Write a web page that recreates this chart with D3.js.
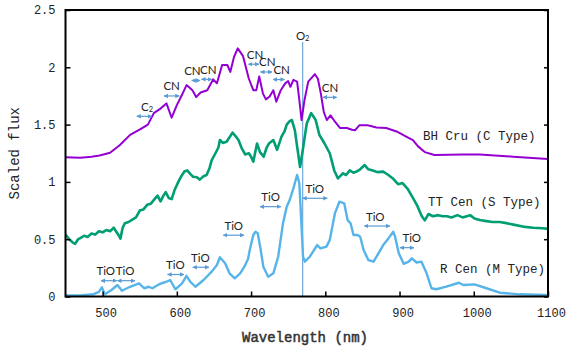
<!DOCTYPE html>
<html>
<head>
<meta charset="utf-8">
<script src="https://cdn.jsdelivr.net/npm/d3@7"></script>
<style>
  html, body { margin: 0; padding: 0; background: #fff; }
  svg { display: block; }
</style>
</head>
<body>
<svg id="chart" width="566" height="348"></svg>
<script>
// Spectra of three late-type giants: wavelength (nm) and scaled flux.
const bhCruWave = [450,470,485,496,510,523,537,551,561,569,578,586,593,600,607,613,621,626,632,641,649,654,661,668,672,677,682,689,697,703,707,711,716,720,725,730,734,740,746,750,753,757,762,765,768,772,777,786,790,794,798,802,807,813,820,829,836,840,846,857,869,882,896,909,918,925,934,947,985,1008,1053,1100];
const bhCruFlux = [1.215,1.21,1.22,1.23,1.255,1.32,1.41,1.46,1.50,1.60,1.64,1.685,1.56,1.67,1.76,1.845,1.80,1.74,1.78,1.80,1.895,1.86,2.02,2.02,1.96,2.09,2.165,2.10,1.90,1.80,1.80,1.92,1.77,1.72,1.745,1.80,1.70,1.80,1.86,1.88,1.83,1.89,1.875,1.715,1.54,1.715,1.875,1.94,1.90,1.77,1.61,1.54,1.58,1.525,1.47,1.47,1.455,1.45,1.495,1.495,1.475,1.47,1.44,1.395,1.365,1.31,1.26,1.235,1.24,1.24,1.22,1.20];

const ttCenWave = [450,455,460,463,467,470,475,480,485,490,495,500,505,510,515,518,522,524,527,530,535,540,545,550,555,560,565,570,574,578,582,585,589,593,597,602,606,610,614,618,622,627,631,636,640,644,647,652,656,658,662,667,671,675,679,683,687,692,697,700,703,708,712,717,721,724,730,735,741,745,748,752,755,759,762,766,769,775,781,787,792,799,806,812,817,820,824,828,833,838,842,847,853,858,864,870,878,885,891,898,904,911,918,924,930,934,939,945,952,958,964,970,978,985,995,1001,1008,1015,1025,1035,1044,1055,1066,1080,1093,1100];
const ttCenFlux = [0.54,0.50,0.47,0.46,0.50,0.51,0.53,0.52,0.55,0.54,0.57,0.56,0.58,0.57,0.60,0.57,0.53,0.505,0.60,0.64,0.65,0.67,0.69,0.75,0.76,0.80,0.81,0.85,0.88,0.83,0.88,0.91,0.86,0.85,0.93,1.00,1.05,1.09,1.10,1.07,1.045,1.04,1.02,1.05,1.06,1.12,1.19,1.25,1.30,1.366,1.34,1.35,1.39,1.43,1.40,1.366,1.30,1.24,1.25,1.22,1.176,1.335,1.26,1.22,1.30,1.335,1.365,1.28,1.395,1.44,1.50,1.53,1.54,1.45,1.31,1.13,1.25,1.51,1.60,1.54,1.41,1.335,1.25,1.10,1.03,1.05,1.075,1.06,1.10,1.08,1.09,1.11,1.147,1.11,1.10,1.085,1.09,1.06,1.03,0.98,0.99,0.94,0.86,0.79,0.70,0.665,0.72,0.70,0.71,0.70,0.70,0.69,0.71,0.69,0.71,0.68,0.667,0.66,0.65,0.65,0.64,0.625,0.61,0.60,0.595,0.59];

const rCenWave = [450,470,488,495,499,503,512,520,526,537,549,556,562,567,577,586,591,598,607,613,618,625,636,647,654,658,665,671,678,685,691,696,698,703,706,709,713,716.5,723,730,736.5,743,748,752,757,762,765,768,770,772.5,779,783.5,789,793.5,801.5,806,813,819,825.5,830,834,838,843.5,847,851.6,858,865,871.6,878,885,891.5,894,899,905.6,912.4,916.5,923,929.5,936.5,943,949.6,963,980,986,1001,1017,1035,1062,1095,1100];
const rCenFlux = [0.01,0.01,0.02,0.04,0.08,0.02,0.057,0.10,0.05,0.085,0.115,0.072,0.085,0.072,0.109,0.129,0.144,0.063,0.115,0.18,0.129,0.085,0.144,0.217,0.275,0.342,0.29,0.202,0.159,0.20,0.26,0.33,0.40,0.537,0.565,0.551,0.406,0.26,0.173,0.202,0.347,0.639,0.784,0.842,0.944,1.06,0.988,0.609,0.347,0.304,0.347,0.391,0.449,0.42,0.435,0.493,0.726,0.827,0.813,0.667,0.639,0.537,0.537,0.522,0.406,0.318,0.304,0.377,0.449,0.507,0.565,0.522,0.377,0.285,0.304,0.333,0.297,0.304,0.202,0.072,0.063,0.086,0.12,0.10,0.106,0.072,0.033,0.019,0.013,0.012];

const seriesNames = ["BH Cru (C Type)", "TT Cen (S Type)", "R Cen (M Type)"];

// Molecular band annotations: label, band start/end (nm), flux level of the arrow, label centre (nm)
const bandLabels = ["C2","CN","CN","CN","CN","CN","CN","CN","TiO","TiO","TiO","TiO","TiO","TiO","TiO","TiO","TiO"];
const bandStart  = [546,582.7,620,633.2,696.3,712.7,729.5,796.9,497.8,520,587.4,621.4,662.6,712,769.5,852.5,900.6];
const bandEnd    = [566,603.3,631.3,647,710.7,728.2,745,815.3,519,543.6,609.6,643.3,690.5,740.3,802.7,887.1,919.5];
const bandLevel  = [1.572,1.75,1.885,1.895,2.027,1.959,1.893,1.738,0.138,0.138,0.192,0.255,0.535,0.784,0.857,0.615,0.426];
const bandText   = [559.8,593,621,642.4,705.3,721.9,741.2,806.3,504.2,530.4,597.9,631.6,676.7,726.4,785.7,867.3,916.4];

// Telluric O2 A-band marker
const o2Wave = 769.5;
const o2Top = 2.22;

const xTicks = [500,600,700,800,900,1000,1100];
const yTicks = [0,0.5,1,1.5,2,2.5];

const svg = d3.select("#chart");
const frame = { left: 65.5, right: 548, top: 10, bottom: 296.5 };

const x = d3.scaleLinear().domain([450, 1100]).range([frame.left, frame.right]);
const y = d3.scaleLinear().domain([0, 2.5]).range([frame.bottom, frame.top]);

const mono = "'Liberation Mono', 'DejaVu Sans Mono', monospace";
const sans = "Lato, 'Open Sans', sans-serif";

const defs = svg.append("defs");
defs.append("clipPath").attr("id", "clip")
  .append("rect").attr("x", frame.left).attr("y", frame.top)
  .attr("width", frame.right - frame.left).attr("height", frame.bottom - frame.top);

const line = d3.line().x(d => x(d[0])).y(d => y(d[1]));
const zip = (a, b) => a.map((v, i) => [v, b[i]]);

const curves = [
  { data: zip(bhCruWave, bhCruFlux), color: "#9400d3", width: 2 },
  { data: zip(ttCenWave, ttCenFlux), color: "#009e73", width: 2.6 },
  { data: zip(rCenWave, rCenFlux), color: "#56b4e9", width: 2.4 }
];

// O2 line
svg.append("line")
  .attr("x1", x(o2Wave)).attr("x2", x(o2Wave))
  .attr("y1", y(o2Top)).attr("y2", y(0))
  .attr("stroke", "#6fa8dc").attr("stroke-width", 1.2);

const lines = svg.append("g").attr("clip-path", "url(#clip)");
curves.forEach(c => {
  lines.append("path")
    .attr("d", line(c.data))
    .attr("fill", "none")
    .attr("stroke", c.color)
    .attr("stroke-width", c.width)
    .attr("stroke-linejoin", "round");
});

svg.append("text")
  .attr("x", x(o2Wave)).attr("y", 35)
  .attr("text-anchor", "middle").attr("dominant-baseline", "central")
  .attr("font-family", sans).attr("font-size", 11.5).attr("fill", "#222")
  .call(t => {
    t.append("tspan").text("O");
    t.append("tspan").attr("font-size", 7.5).attr("dy", 3).text("2");
  });

// Double-headed arrow markers
["start", "end"].forEach(k => {
  defs.append("marker")
    .attr("id", "arr-" + k)
    .attr("viewBox", "0 0 10 10")
    .attr("refX", k === "end" ? 9 : 1).attr("refY", 5)
    .attr("markerWidth", 4.5).attr("markerHeight", 4.5)
    .attr("markerUnits", "userSpaceOnUse")
    .attr("orient", "auto")
    .append("path")
    .attr("d", k === "end" ? "M0,0 L10,5 L0,10 z" : "M10,0 L0,5 L10,10 z")
    .attr("fill", "#5b9bd5");
});

const bands = svg.append("g");
bandLabels.forEach((lab, i) => {
  const yy = y(bandLevel[i]);
  bands.append("line")
    .attr("x1", x(bandStart[i])).attr("x2", x(bandEnd[i]))
    .attr("y1", yy).attr("y2", yy)
    .attr("stroke", "#5b9bd5").attr("stroke-width", 1.2)
    .attr("marker-start", "url(#arr-start)").attr("marker-end", "url(#arr-end)");
  const t = bands.append("text")
    .attr("x", x(bandText[i])).attr("y", yy - 10)
    .attr("text-anchor", "middle").attr("dominant-baseline", "central")
    .attr("font-family", sans).attr("font-size", 11.5).attr("fill", "#222");
  if (lab === "C2") {
    t.append("tspan").text("C");
    t.append("tspan").attr("font-size", 7.5).attr("dy", 3).text("2");
  } else {
    t.text(lab);
  }
});

// Series labels
const seriesAt = [[423, 1.39], [428, 0.82], [440, 0.235]];
seriesNames.forEach((n, i) => {
  svg.append("text")
    .attr("x", seriesAt[i][0]).attr("y", y(seriesAt[i][1]))
    .attr("dominant-baseline", "central")
    .attr("font-family", mono).attr("font-size", 12.5).attr("fill", "#222")
    .text(n);
});

// Axes
const fmt = d => String(d);
const gl = svg.append("g").attr("transform", `translate(${frame.left},0)`)
  .call(d3.axisLeft(y).tickValues(yTicks).tickFormat(fmt).tickSize(-5).tickPadding(10));
const gr = svg.append("g").attr("transform", `translate(${frame.right},0)`)
  .call(d3.axisRight(y).tickValues(yTicks).tickFormat("").tickSize(-4));
const gb = svg.append("g").attr("transform", `translate(0,${frame.bottom})`)
  .call(d3.axisBottom(x).tickValues(xTicks).tickFormat(fmt).tickSize(-5).tickPadding(12));
[gl, gr, gb].forEach(g => {
  g.select(".domain").remove();
  g.selectAll(".tick line").attr("stroke", "#000").attr("stroke-width", 1.5);
  g.selectAll("text").attr("font-family", mono).attr("font-size", 12).attr("fill", "#222");
});
gb.selectAll("text").attr("dx", 3);

// Frame
svg.append("rect")
  .attr("x", frame.left).attr("y", frame.top)
  .attr("width", frame.right - frame.left).attr("height", frame.bottom - frame.top)
  .attr("fill", "none").attr("stroke", "#000").attr("stroke-width", 2);

// Axis titles
svg.append("text")
  .attr("x", 305).attr("y", 338)
  .attr("text-anchor", "middle").attr("dominant-baseline", "central")
  .attr("font-family", mono).attr("font-size", 14).attr("fill", "#333")
  .attr("stroke", "#333").attr("stroke-width", 0.5)
  .text("Wavelength (nm)");
svg.append("text")
  .attr("transform", `translate(15,${(frame.top + frame.bottom) / 2}) rotate(-90)`)
  .attr("text-anchor", "middle").attr("dominant-baseline", "central")
  .attr("font-family", mono).attr("font-size", 14).attr("fill", "#222")
  .text("Scaled flux");
</script>
</body>
</html>
